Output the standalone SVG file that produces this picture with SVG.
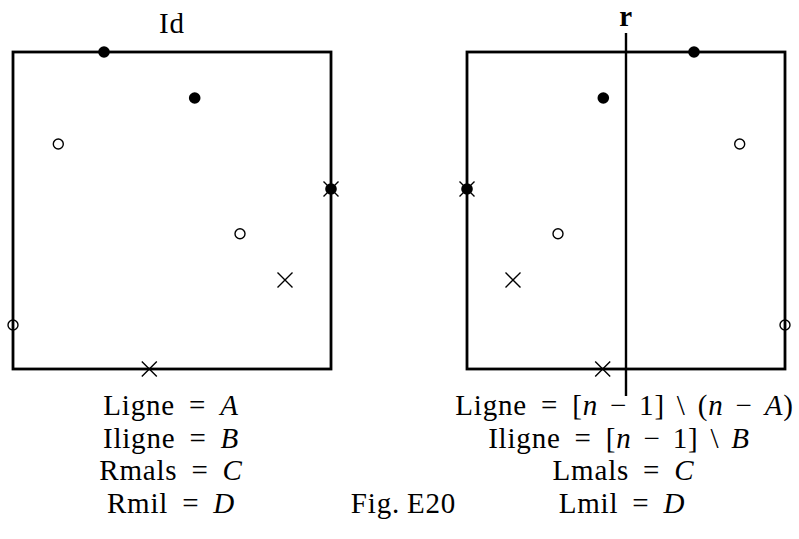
<svg xmlns="http://www.w3.org/2000/svg" xmlns:xlink="http://www.w3.org/1999/xlink" width="799" height="539" viewBox="0 0 799 539">
<style>
.box{fill:none;stroke:#000;stroke-width:2.8;stroke-linecap:square}
.rl{stroke:#000;stroke-width:2.4}
.t{font-family:'Liberation Serif','DejaVu Serif','Times New Roman',serif;font-size:29px;letter-spacing:0.8px;fill:#000;text-anchor:middle}
.i{font-style:italic}
.b{font-weight:bold}
</style>
<defs>
<circle id="dot" r="5.8" fill="#000"/>
<circle id="circ" r="5" fill="none" stroke="#000" stroke-width="1.4"/>
<path id="cross" d="M-7.5,-7.5L7.5,7.5M-7.5,7.5L7.5,-7.5" stroke="#000" stroke-width="1.4" fill="none"/>
</defs>
<rect width="799" height="539" fill="#fff"/>
<g id="left">
<text class="t" x="172" y="33" font-size="30" font-family="Liberation Serif, DejaVu Serif, serif">Id</text>
<rect class="box" x="13" y="52" width="318" height="317"/>
<use xlink:href="#dot" x="104" y="52"/>
<use xlink:href="#dot" x="194.7" y="98"/>
<use xlink:href="#circ" x="58.3" y="144"/>
<use xlink:href="#cross" x="331" y="189"/>
<use xlink:href="#dot" x="331" y="189"/>
<use xlink:href="#circ" x="240" y="233.7"/>
<use xlink:href="#cross" x="285" y="280"/>
<use xlink:href="#circ" x="13" y="325"/>
<use xlink:href="#cross" x="149.3" y="369"/>
<text class="t" x="171" y="415" font-family="Liberation Serif, DejaVu Serif, serif">Ligne<tspan dx="14">=</tspan><tspan class="i" dx="14">A</tspan></text>
<text class="t" x="171" y="448" font-family="Liberation Serif, DejaVu Serif, serif">Iligne<tspan dx="14">=</tspan><tspan class="i" dx="14">B</tspan></text>
<text class="t" x="171" y="480" font-family="Liberation Serif, DejaVu Serif, serif">Rmals<tspan dx="14">=</tspan><tspan class="i" dx="14">C</tspan></text>
<text class="t" x="171" y="513" font-family="Liberation Serif, DejaVu Serif, serif">Rmil<tspan dx="14">=</tspan><tspan class="i" dx="14">D</tspan></text>
</g>
<g id="right">
<rect class="box" x="467" y="52" width="318" height="317"/>
<use xlink:href="#dot" x="694" y="52"/>
<use xlink:href="#dot" x="603.3" y="98"/>
<use xlink:href="#circ" x="739.7" y="144"/>
<use xlink:href="#cross" x="467" y="189"/>
<use xlink:href="#dot" x="467" y="189"/>
<use xlink:href="#circ" x="558" y="233.7"/>
<use xlink:href="#cross" x="513" y="280"/>
<use xlink:href="#circ" x="785" y="325"/>
<use xlink:href="#cross" x="602.7" y="369"/>
<text class="t" x="624.5" y="415" font-family="Liberation Serif, DejaVu Serif, serif">Ligne<tspan dx="14">=</tspan><tspan dx="14">[</tspan><tspan class="i">n</tspan><tspan dx="12">−</tspan><tspan dx="12">1]</tspan><tspan dx="12">\</tspan><tspan dx="12">(</tspan><tspan class="i">n</tspan><tspan dx="12">−</tspan><tspan class="i" dx="12">A</tspan>)</text>
<text class="t" x="619" y="448" font-family="Liberation Serif, DejaVu Serif, serif">Iligne<tspan dx="14">=</tspan><tspan dx="14">[</tspan><tspan class="i">n</tspan><tspan dx="12">−</tspan><tspan dx="12">1]</tspan><tspan dx="12">\</tspan><tspan class="i" dx="12">B</tspan></text>
<text class="t" x="623.5" y="480" font-family="Liberation Serif, DejaVu Serif, serif">Lmals<tspan dx="14">=</tspan><tspan class="i" dx="14">C</tspan></text>
<text class="t" x="622" y="513" font-family="Liberation Serif, DejaVu Serif, serif">Lmil<tspan dx="14">=</tspan><tspan class="i" dx="14">D</tspan></text>
</g>
<g id="line-r">
<line class="rl" x1="626" y1="33" x2="626" y2="396"/>
<text class="t b" x="626" y="26" font-size="30" font-family="Liberation Serif, DejaVu Serif, serif">r</text>
</g>
<g id="caption">
<text class="t" x="403.5" y="513" font-family="Liberation Serif, DejaVu Serif, serif">Fig.<tspan dx="7">E20</tspan></text>
</g>
</svg>
